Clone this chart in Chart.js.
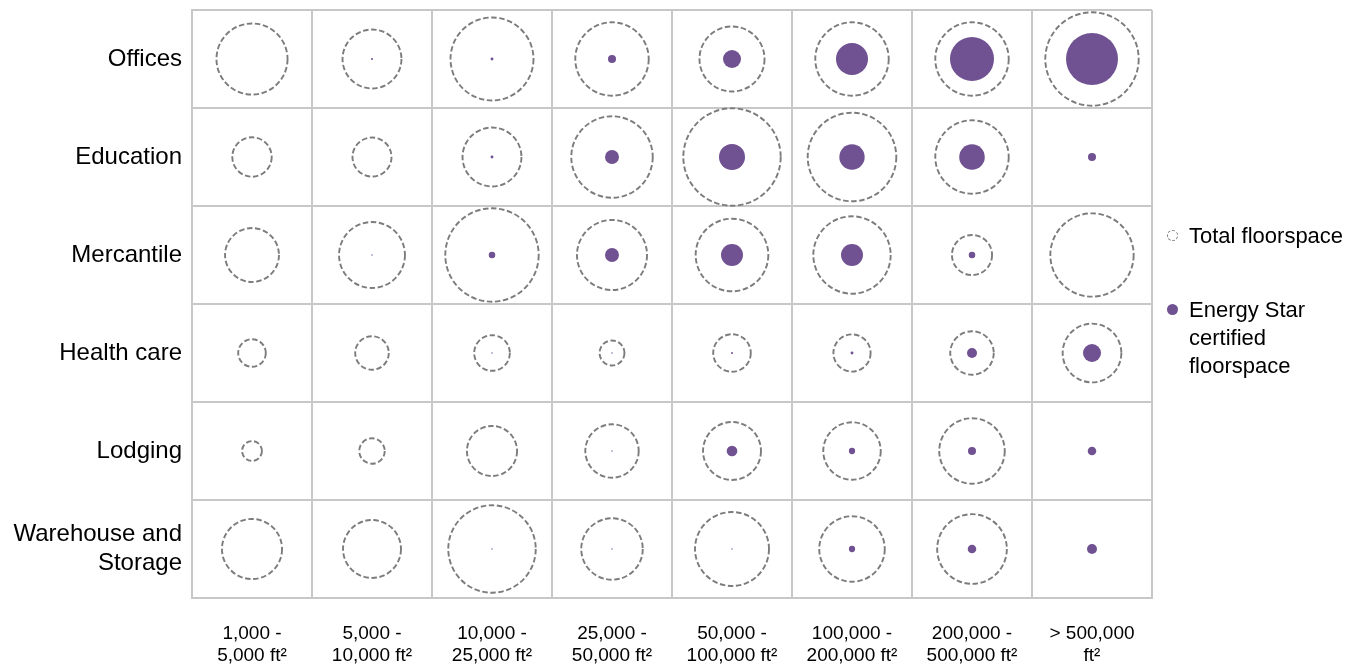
<!DOCTYPE html>
<html>
<head>
<meta charset="utf-8">
<script src="https://cdn.jsdelivr.net/npm/chart.js@4.4.1/dist/chart.umd.min.js"></script>
<style>
  html, body { margin: 0; padding: 0; background: #fff; }
  #wrap { position: relative; width: 1372px; height: 665px; }
  canvas { display: block; }
  .leg { position: absolute; left: 1165px; font-family: "Liberation Sans", Arial, sans-serif; font-size: 22px; line-height: 28px; color: #000; }
  .leg .row { position: relative; padding-left: 24px; }
  .ico-total { position: absolute; left: 2px; top: 8px; width: 9px; height: 9px; border: 1.6px dashed #808080; border-radius: 50%; }
  .ico-cert { position: absolute; left: 2px; top: 8px; width: 11px; height: 11px; background: #705191; border-radius: 50%; }
</style>
</head>
<body>
<div id="wrap">
  <canvas id="c" width="1372" height="665"></canvas>
  <div class="leg" style="top:222px;"><div class="row"><span class="ico-total"></span>Total floorspace</div></div>
  <div class="leg" style="top:296px;"><div class="row"><span class="ico-cert"></span>Energy Star<br>certified<br>floorspace</div></div>
</div>
<script>
// Categories
const buildingTypes = ['Offices', 'Education', 'Mercantile', 'Health care', 'Lodging', 'Warehouse and Storage'];
const yTickLabels = [['Offices'], ['Education'], ['Mercantile'], ['Health care'], ['Lodging'], ['Warehouse and', 'Storage']];
const sizeClasses = ['1,000-5,000', '5,000-10,000', '10,000-25,000', '25,000-50,000', '50,000-100,000', '100,000-200,000', '200,000-500,000', '>500,000'];
const xTickLabels = [
  ['1,000 -', '5,000 ft²'],
  ['5,000 -', '10,000 ft²'],
  ['10,000 -', '25,000 ft²'],
  ['25,000 -', '50,000 ft²'],
  ['50,000 -', '100,000 ft²'],
  ['100,000 -', '200,000 ft²'],
  ['200,000 -', '500,000 ft²'],
  ['> 500,000', 'ft²']
];

// Total floorspace (million ft², estimated from circle areas)
const totalOffices    = [1790, 1230, 2440, 1910, 1500, 1910, 1910, 3090];
const totalEducation  = [550, 540, 1230, 2350, 3360, 2780, 1910, null];
const totalMercantile = [1030, 1540, 3090, 1740, 1870, 2120, 570, 2460];
const totalHealthCare = [270, 400, 450, 220, 500, 490, 670, 1220];
const totalLodging    = [140, 230, 890, 1010, 1190, 1170, 1520, null];
const totalWarehouse  = [1280, 1190, 2710, 1340, 1940, 1520, 1720, null];

// Energy Star certified floorspace (million ft², estimated)
const certOffices    = [0, 1.5, 3, 23, 115, 363, 686, 958];
const certEducation  = [0, 0, 3, 69, 240, 228, 232, 23];
const certMercantile = [0, 0.7, 15, 69, 171, 171, 15, 0];
const certHealthCare = [0, 0, 0.7, 0.7, 1.4, 3, 35, 115];
const certLodging    = [0, 0, 0, 0.7, 40, 14, 23, 26];
const certWarehouse  = [0, 0, 0.7, 0.7, 0.7, 14, 26, 35];

const totals = [totalOffices, totalEducation, totalMercantile, totalHealthCare, totalLodging, totalWarehouse];
const certs  = [certOffices, certEducation, certMercantile, certHealthCare, certLodging, certWarehouse];

const PX_PER_SQRT = 0.84; // bubble radius scale: r = k * sqrt(value)

function toBubbles(rows) {
  const out = [];
  rows.forEach((vals, yi) => {
    vals.forEach((v, xi) => {
      if (v !== null && v > 0) out.push({ x: xi + 0.5, y: yi + 0.5, r: PX_PER_SQRT * Math.sqrt(v), v: v });
    });
  });
  return out;
}

const dashPlugin = {
  id: 'dashPlugin',
  beforeDatasetDraw(chart, args) {
    const ds = chart.data.datasets[args.index];
    chart.ctx.save();
    if (ds.dash) chart.ctx.setLineDash(ds.dash);
  },
  afterDatasetDraw(chart) {
    chart.ctx.restore();
  }
};

const GRID = '#c8c8c8';
const FONT = '"Liberation Sans", Arial, sans-serif';

function zeroPad(axis) {
  axis.paddingTop = 0; axis.paddingBottom = 0; axis.paddingLeft = 0; axis.paddingRight = 0;
}

new Chart(document.getElementById('c'), {
  type: 'bubble',
  data: {
    datasets: [
      {
        label: 'Energy Star certified floorspace',
        data: toBubbles(certs),
        backgroundColor: '#705191',
        borderWidth: 0,
        hoverBorderWidth: 0,
        order: 0
      },
      {
        label: 'Total floorspace',
        data: toBubbles(totals),
        backgroundColor: 'rgba(0,0,0,0)',
        borderColor: '#7c7c7c',
        borderWidth: 1.9,
        dash: [5.5, 2.6],
        order: 1
      }
    ]
  },
  options: {
    responsive: false,
    animation: false,
    devicePixelRatio: 1,
    events: [],
    layout: { autoPadding: false, padding: { top: 10, right: 220, left: 0, bottom: 0 } },
    plugins: { legend: { display: false }, tooltip: { enabled: false } },
    scales: {
      x: {
        type: 'linear',
        position: 'bottom',
        min: 0,
        max: 8,
        afterBuildTicks: (axis) => { axis.ticks = xTickLabels.map((_, i) => ({ value: i + 0.5 })); },
        afterFit: (axis) => { axis.height = 67; zeroPad(axis); },
        ticks: {
          autoSkip: false,
          maxRotation: 0,
          minRotation: 0,
          padding: 25,
          color: '#000',
          font: { family: FONT, size: 19, lineHeight: 1.15 },
          callback: (v, i) => xTickLabels[i]
        },
        grid: { offset: true, color: GRID, lineWidth: 2, drawTicks: false },
        border: { color: GRID, width: 2 }
      },
      y: {
        type: 'linear',
        reverse: true,
        min: 0,
        max: 6,
        afterBuildTicks: (axis) => { axis.ticks = yTickLabels.map((_, i) => ({ value: i + 0.5 })); },
        afterFit: (axis) => { axis.width = 192; zeroPad(axis); },
        ticks: {
          autoSkip: false,
          padding: 10,
          color: '#000',
          font: { family: FONT, size: 24, lineHeight: 1.2 },
          callback: (v, i) => yTickLabels[i]
        },
        grid: { offset: true, color: GRID, lineWidth: 2, drawTicks: false },
        border: { color: GRID, width: 2 }
      }
    }
  },
  plugins: [dashPlugin]
});
</script>
</body>
</html>
